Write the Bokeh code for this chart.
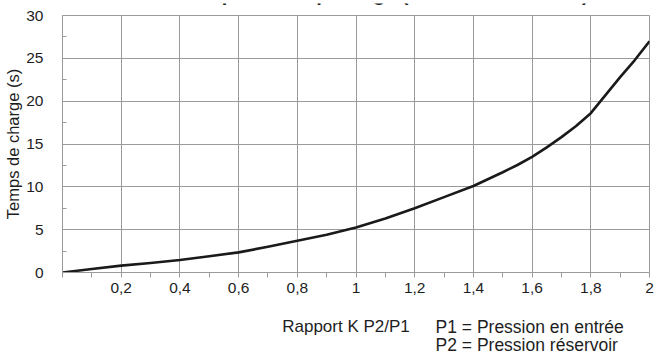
from bokeh.plotting import figure
from bokeh.layouts import column
from bokeh.models import FixedTicker, CustomJSTickFormatter, Label, Range1d
from bokeh.embed import file_html
from bokeh.resources import INLINE

# Data
k_ratio = [0.0, 0.1, 0.2, 0.3, 0.4, 0.5, 0.6, 0.7, 0.8, 0.9, 1.0, 1.1, 1.2, 1.3, 1.4,
           1.5, 1.55, 1.6, 1.65, 1.7, 1.75, 1.8, 1.85, 1.9, 1.95, 2.0]
charge_time = [0.0, 0.4, 0.8, 1.1, 1.45, 1.9, 2.35, 3.0, 3.7, 4.4, 5.25, 6.3, 7.5, 8.8, 10.1,
               11.7, 12.55, 13.5, 14.6, 15.8, 17.1, 18.6, 20.7, 22.8, 24.8, 27.0]

x_ticks = [0.0, 0.2, 0.4, 0.6, 0.8, 1.0, 1.2, 1.4, 1.6, 1.8, 2.0]
x_minor = [0.1, 0.3, 0.5, 0.7, 0.9, 1.1, 1.3, 1.5, 1.7, 1.9]
y_ticks = [0, 5, 10, 15, 20, 25, 30]
y_minor = [2.5, 7.5, 12.5, 17.5, 22.5, 27.5]

title_text = "Temps de remplissage (réservoir de 1 litre)"
y_label = "Temps de charge (s)"
x_label = "Rapport K P2/P1"
note1 = "P1 = Pression en entrée"
note2 = "P2 = Pression réservoir"

FONT = "Liberation Sans"
GRID = "#9a9a9a"
TXT = "#1e1e1e"
W = 667

x_range = Range1d(0, 2)


def bare(height, y_end):
    f = figure(width=W, height=height, output_backend="svg", toolbar_location=None,
               x_range=x_range, y_range=Range1d(0, y_end),
               x_axis_location=None, y_axis_location=None,
               min_border_left=62, min_border_right=18, min_border_top=0, min_border_bottom=0)
    f.grid.visible = False
    f.outline_line_color = None
    f.background_fill_color = "white"
    f.border_fill_color = "white"
    return f


# Top strip: the title, cut off at the top edge as in the reference
top = bare(9, 9)
top.add_layout(Label(x=1.10, y=18.5, text=title_text, text_align="center",
                     text_baseline="alphabetic", text_font=FONT, text_font_style="bold",
                     text_font_size="20px", text_color=TXT))

# Main chart
p = figure(width=W, height=303, output_backend="svg", toolbar_location=None,
           x_range=x_range, y_range=Range1d(0, 30),
           min_border_left=62, min_border_right=18, min_border_top=6, min_border_bottom=40)
p.outline_line_color = GRID
p.outline_line_width = 1
p.background_fill_color = "white"
p.border_fill_color = "white"

p.xaxis.ticker = FixedTicker(ticks=x_ticks, minor_ticks=x_minor)
p.yaxis.ticker = FixedTicker(ticks=y_ticks, minor_ticks=y_minor)
p.xaxis.formatter = CustomJSTickFormatter(code="""
if (Math.abs(tick) < 1e-9) { return ""; }
var s = tick.toFixed(1);
if (s.endsWith(".0")) { s = s.slice(0, -2); }
return s.replace(".", ",");
""")

for ax in (p.xaxis, p.yaxis):
    ax.axis_line_color = GRID
    ax.major_tick_line_color = GRID
    ax.minor_tick_line_color = GRID
    ax.major_label_text_font = FONT
    ax.major_label_text_font_size = "15.5px"
    ax.major_label_text_color = TXT
    ax.axis_label_text_font = FONT
    ax.axis_label_text_font_style = "normal"
    ax.axis_label_text_color = TXT

p.xaxis.major_tick_in = 0
p.xaxis.major_tick_out = 5
p.xaxis.minor_tick_in = 0
p.xaxis.minor_tick_out = 5
p.xaxis.major_label_standoff = 5

p.yaxis.major_tick_in = 0
p.yaxis.major_tick_out = 0
p.yaxis.minor_tick_in = 4
p.yaxis.minor_tick_out = 0
p.yaxis.major_label_standoff = 19
p.yaxis.axis_label = y_label
p.yaxis.axis_label_text_font_size = "16.5px"
p.yaxis.axis_label_standoff = 1

p.xgrid.grid_line_color = GRID
p.ygrid.grid_line_color = GRID
p.xgrid.grid_line_width = 1
p.ygrid.grid_line_width = 1

p.line(k_ratio, charge_time, line_color="#1a1a1a", line_width=2.6, line_join="round")

# Bottom strip: axis caption and the two notes
bottom = bare(40, 40)
bottom.add_layout(Label(x=0.7486, y=26, text=x_label, text_baseline="alphabetic",
                        text_font=FONT, text_font_size="17px", text_color=TXT))
for txt, yy in ((note1, 26), (note2, 8)):
    bottom.add_layout(Label(x=1.271, y=yy, text=txt, text_baseline="alphabetic",
                            text_font=FONT, text_font_size="17.5px", text_color=TXT))

layout = column(top, p, bottom, spacing=0)
open("out.html", "w").write(file_html(layout, INLINE))
